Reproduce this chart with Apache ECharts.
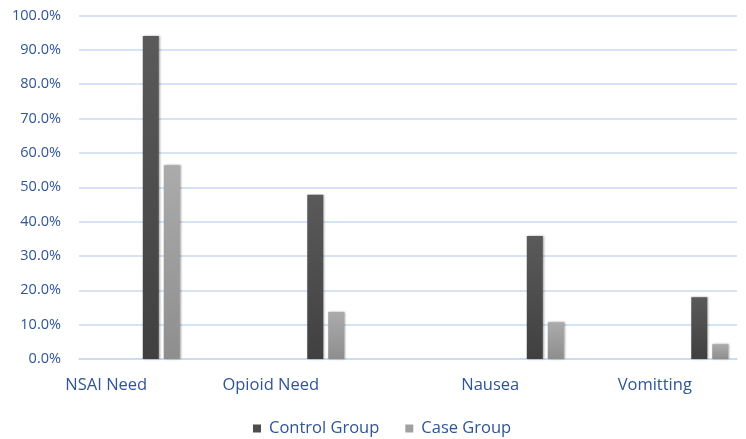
<!DOCTYPE html>
<html>
<head>
<meta charset="utf-8">
<script src="https://cdn.jsdelivr.net/npm/echarts@6/dist/echarts.min.js"></script>
<style>html,body{margin:0;padding:0;background:#fff}#c{width:746px;height:439px}</style>
</head>
<body>
<div id="c"></div>
<script>
var categories = ['NSAI Need', 'Opioid Need', 'Nausea', 'Vomitting'];
var controlGroup = [94.0, 47.8, 35.8, 18.0];
var caseGroup = [56.4, 13.7, 10.7, 4.3];
var yTicks = [0, 10, 20, 30, 40, 50, 60, 70, 80, 90, 100];

var txt = '#2F5597';
var font = 'Open Sans';
function grad(a, b) {
  return new echarts.graphic.LinearGradient(0, 0, 0, 1, [{offset: 0, color: a}, {offset: 1, color: b}]);
}
var ctlColor = grad('#5a5a5a', '#404040');
var caseColor = grad('#ababab', '#8e8e8e');
function part(arr, lo, hi) { return arr.map(function (v, i) { return (i >= lo && i < hi) ? v : null; }); }
var barStyle = function (c) {
  return {color: c, shadowBlur: 2, shadowColor: 'rgba(0,0,0,0.35)', shadowOffsetX: 1, shadowOffsetY: 0};
};

var chart = echarts.init(document.getElementById('c'));
chart.setOption({
  animation: false,
  grid: [
    {left: 79, right: 9, top: 15.5, bottom: 80, outerBoundsMode: 'none'},
    {left: 134, width: 658, top: 15.5, bottom: 80, outerBoundsMode: 'none'}
  ],
  legend: {
    left: 248, top: 415,
    itemWidth: 8, itemHeight: 8, itemGap: 26,
    icon: 'rect',
    textStyle: {color: txt, fontSize: 16.5, fontFamily: font, padding: [0, 0, 0, 3]},
    data: [{name: 'Control Group', itemStyle: {color: '#4d4d4d'}}, {name: 'Case Group', itemStyle: {color: '#a0a0a0'}}]
  },
  xAxis: [
    {
      type: 'category', gridIndex: 0, data: categories,
      axisLine: {lineStyle: {color: '#c9daf0', width: 1.5}},
      axisTick: {show: false},
      axisLabel: {
        color: txt, fontSize: 16.5, fontFamily: font, margin: 18, interval: 0,
        formatter: function (v, i) { return i < 2 ? '{l|' + v + '}' : v; },
        rich: {l: {color: txt, fontSize: 16.5, fontFamily: font, padding: [0, 110, 0, 0]}}
      }
    },
    {
      type: 'category', gridIndex: 1, data: categories, show: false
    }
  ],
  yAxis: [
    {
      type: 'value', gridIndex: 0, min: 0, max: 100, interval: 10,
      axisLine: {show: false}, axisTick: {show: false},
      splitLine: {lineStyle: {color: '#c9daf0', width: 1.5}},
      axisLabel: {color: txt, fontSize: 14.5, fontFamily: font, margin: 18,
        formatter: function (v) { return yTicks.indexOf(v) >= 0 ? v.toFixed(1) + '%' : ''; }}
    },
    {type: 'value', gridIndex: 1, min: 0, max: 100, show: false}
  ],
  series: [
    {name: 'Control Group', type: 'bar', xAxisIndex: 0, yAxisIndex: 0, data: part(controlGroup, 0, 2), barWidth: 16, barGap: '31%', itemStyle: barStyle(ctlColor)},
    {name: 'Case Group', type: 'bar', xAxisIndex: 0, yAxisIndex: 0, data: part(caseGroup, 0, 2), barWidth: 16, barGap: '31%', itemStyle: barStyle(caseColor)},
    {name: 'Control Group', type: 'bar', xAxisIndex: 1, yAxisIndex: 1, data: part(controlGroup, 2, 4), barWidth: 16, barGap: '31%', itemStyle: barStyle(ctlColor)},
    {name: 'Case Group', type: 'bar', xAxisIndex: 1, yAxisIndex: 1, data: part(caseGroup, 2, 4), barWidth: 16, barGap: '31%', itemStyle: barStyle(caseColor)}
  ]
});
</script>
</body>
</html>
